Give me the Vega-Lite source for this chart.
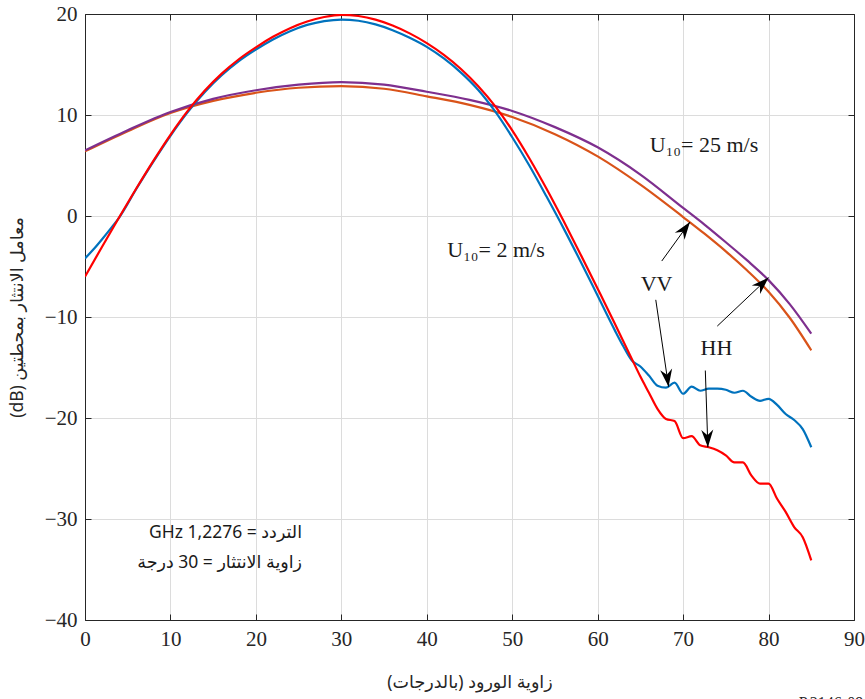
{
  "$schema": "https://vega.github.io/schema/vega-lite/v6.json",
  "width": 769,
  "height": 606,
  "autosize": {"type": "none"},
  "padding": {"left": 85, "top": 14, "right": 11, "bottom": 79},
  "background": "white",
  "config": {
    "view": {"stroke": null},
    "axis": {
      "domainColor": "#262626",
      "domainWidth": 1,
      "tickColor": "#262626",
      "gridColor": "#dcdcdc",
      "gridWidth": 1,
      "labelFont": "Liberation Serif",
      "labelFontSize": 21,
      "labelColor": "#262626",
      "labelFlush": false,
      "titleFont": "Noto Sans, DejaVu Sans",
      "titleFontSize": 17.5,
      "titleFontWeight": "normal",
      "titleColor": "#262626"
    }
  },
  "resolve": {"axis": {"x": "independent", "y": "independent"}},
  "layer": [
    {
      "data": {"values": [{"x": 0, "y": 0}]},
      "mark": {"type": "point", "opacity": 0},
      "encoding": {
        "x": {"field": "x", "type": "quantitative", "scale": {"domain": [0, 90], "nice": false, "zero": false},
          "axis": {"orient": "top", "values": [0,10,20,30,40,50,60,70,80,90], "labels": false, "grid": false, "tickSize": -6, "title": null}},
        "y": {"field": "y", "type": "quantitative", "scale": {"domain": [-40, 20], "nice": false, "zero": false},
          "axis": {"orient": "right", "values": [-40,-30,-20,-10,0,10,20], "labels": false, "grid": false, "tickSize": -6, "title": null}}
      }
    },
    {
      "data": {"values": [
        {"s": "VV25", "x": 0, "y": 6.4}, {"s": "VV25", "x": 5, "y": 8.4}, {"s": "VV25", "x": 10, "y": 10.2}, {"s": "VV25", "x": 15, "y": 11.4}, {"s": "VV25", "x": 20, "y": 12.2}, {"s": "VV25", "x": 25, "y": 12.7}, {"s": "VV25", "x": 30, "y": 12.85}, {"s": "VV25", "x": 35, "y": 12.6}, {"s": "VV25", "x": 40, "y": 11.85}, {"s": "VV25", "x": 45, "y": 11.0}, {"s": "VV25", "x": 50, "y": 9.8}, {"s": "VV25", "x": 55, "y": 8.1}, {"s": "VV25", "x": 60, "y": 5.9}, {"s": "VV25", "x": 65, "y": 3.1}, {"s": "VV25", "x": 70, "y": -0.1}, {"s": "VV25", "x": 72.5, "y": -1.75}, {"s": "VV25", "x": 75, "y": -3.5}, {"s": "VV25", "x": 77.5, "y": -5.4}, {"s": "VV25", "x": 80, "y": -7.5}, {"s": "VV25", "x": 82.5, "y": -10.1}, {"s": "VV25", "x": 85, "y": -13.3},
        {"s": "HH25", "x": 0, "y": 6.5}, {"s": "HH25", "x": 5, "y": 8.5}, {"s": "HH25", "x": 10, "y": 10.3}, {"s": "HH25", "x": 15, "y": 11.6}, {"s": "HH25", "x": 20, "y": 12.45}, {"s": "HH25", "x": 25, "y": 13.0}, {"s": "HH25", "x": 30, "y": 13.25}, {"s": "HH25", "x": 35, "y": 13.0}, {"s": "HH25", "x": 40, "y": 12.3}, {"s": "HH25", "x": 45, "y": 11.5}, {"s": "HH25", "x": 50, "y": 10.4}, {"s": "HH25", "x": 55, "y": 8.8}, {"s": "HH25", "x": 60, "y": 6.8}, {"s": "HH25", "x": 65, "y": 4.1}, {"s": "HH25", "x": 70, "y": 0.8}, {"s": "HH25", "x": 72.5, "y": -0.85}, {"s": "HH25", "x": 75, "y": -2.6}, {"s": "HH25", "x": 77.5, "y": -4.4}, {"s": "HH25", "x": 80, "y": -6.35}, {"s": "HH25", "x": 82.5, "y": -8.75}, {"s": "HH25", "x": 85, "y": -11.65},
        {"s": "VV2", "x": 0, "y": -4.2}, {"s": "VV2", "x": 1, "y": -3.3}, {"s": "VV2", "x": 2, "y": -2.3}, {"s": "VV2", "x": 3, "y": -1.25}, {"s": "VV2", "x": 4, "y": -0.15}, {"s": "VV2", "x": 6, "y": 2.67}, {"s": "VV2", "x": 8, "y": 5.38}, {"s": "VV2", "x": 10, "y": 7.94}, {"s": "VV2", "x": 12, "y": 10.26}, {"s": "VV2", "x": 14, "y": 12.25}, {"s": "VV2", "x": 16, "y": 13.93}, {"s": "VV2", "x": 18, "y": 15.33}, {"s": "VV2", "x": 20, "y": 16.48}, {"s": "VV2", "x": 22, "y": 17.48}, {"s": "VV2", "x": 24, "y": 18.3}, {"s": "VV2", "x": 26, "y": 18.92}, {"s": "VV2", "x": 28, "y": 19.3}, {"s": "VV2", "x": 30, "y": 19.45}, {"s": "VV2", "x": 32, "y": 19.33}, {"s": "VV2", "x": 34, "y": 18.97}, {"s": "VV2", "x": 36, "y": 18.4}, {"s": "VV2", "x": 38, "y": 17.65}, {"s": "VV2", "x": 40, "y": 16.75}, {"s": "VV2", "x": 42, "y": 15.6}, {"s": "VV2", "x": 44, "y": 14.2}, {"s": "VV2", "x": 46, "y": 12.5}, {"s": "VV2", "x": 48, "y": 10.35}, {"s": "VV2", "x": 50, "y": 7.8}, {"s": "VV2", "x": 52, "y": 5.0}, {"s": "VV2", "x": 54, "y": 1.95}, {"s": "VV2", "x": 56, "y": -1.2}, {"s": "VV2", "x": 58, "y": -4.5}, {"s": "VV2", "x": 60, "y": -7.9}, {"s": "VV2", "x": 62, "y": -11.3}, {"s": "VV2", "x": 63, "y": -12.9}, {"s": "VV2", "x": 64, "y": -14.3}, {"s": "VV2", "x": 65, "y": -14.9}, {"s": "VV2", "x": 66, "y": -15.8}, {"s": "VV2", "x": 67, "y": -16.8}, {"s": "VV2", "x": 68, "y": -17.0}, {"s": "VV2", "x": 69, "y": -16.5}, {"s": "VV2", "x": 70, "y": -17.6}, {"s": "VV2", "x": 71, "y": -16.9}, {"s": "VV2", "x": 72, "y": -17.3}, {"s": "VV2", "x": 73, "y": -17.1}, {"s": "VV2", "x": 74, "y": -17.1}, {"s": "VV2", "x": 75, "y": -17.2}, {"s": "VV2", "x": 76, "y": -17.5}, {"s": "VV2", "x": 77, "y": -17.3}, {"s": "VV2", "x": 78, "y": -17.9}, {"s": "VV2", "x": 79, "y": -18.3}, {"s": "VV2", "x": 80, "y": -18.1}, {"s": "VV2", "x": 81, "y": -18.7}, {"s": "VV2", "x": 82, "y": -19.6}, {"s": "VV2", "x": 83, "y": -20.2}, {"s": "VV2", "x": 84, "y": -21.1}, {"s": "VV2", "x": 85, "y": -22.9},
        {"s": "HH2", "x": 0, "y": -6.0}, {"s": "HH2", "x": 2, "y": -3.04}, {"s": "HH2", "x": 4, "y": -0.12}, {"s": "HH2", "x": 6, "y": 2.72}, {"s": "HH2", "x": 8, "y": 5.46}, {"s": "HH2", "x": 10, "y": 8.04}, {"s": "HH2", "x": 12, "y": 10.38}, {"s": "HH2", "x": 14, "y": 12.4}, {"s": "HH2", "x": 16, "y": 14.1}, {"s": "HH2", "x": 18, "y": 15.52}, {"s": "HH2", "x": 20, "y": 16.7}, {"s": "HH2", "x": 22, "y": 17.74}, {"s": "HH2", "x": 24, "y": 18.6}, {"s": "HH2", "x": 26, "y": 19.26}, {"s": "HH2", "x": 28, "y": 19.7}, {"s": "HH2", "x": 30, "y": 19.92}, {"s": "HH2", "x": 32, "y": 19.8}, {"s": "HH2", "x": 34, "y": 19.44}, {"s": "HH2", "x": 36, "y": 18.86}, {"s": "HH2", "x": 38, "y": 18.08}, {"s": "HH2", "x": 40, "y": 17.12}, {"s": "HH2", "x": 42, "y": 15.96}, {"s": "HH2", "x": 44, "y": 14.56}, {"s": "HH2", "x": 46, "y": 12.88}, {"s": "HH2", "x": 48, "y": 10.88}, {"s": "HH2", "x": 50, "y": 8.48}, {"s": "HH2", "x": 52, "y": 5.72}, {"s": "HH2", "x": 54, "y": 2.72}, {"s": "HH2", "x": 56, "y": -0.48}, {"s": "HH2", "x": 58, "y": -3.8}, {"s": "HH2", "x": 60, "y": -7.2}, {"s": "HH2", "x": 62, "y": -10.64}, {"s": "HH2", "x": 63, "y": -12.4}, {"s": "HH2", "x": 64, "y": -14.15}, {"s": "HH2", "x": 65, "y": -15.9}, {"s": "HH2", "x": 66, "y": -17.5}, {"s": "HH2", "x": 67, "y": -19.1}, {"s": "HH2", "x": 68, "y": -20.1}, {"s": "HH2", "x": 69, "y": -20.3}, {"s": "HH2", "x": 70, "y": -22.0}, {"s": "HH2", "x": 71, "y": -21.8}, {"s": "HH2", "x": 72, "y": -22.7}, {"s": "HH2", "x": 73, "y": -22.9}, {"s": "HH2", "x": 74, "y": -23.2}, {"s": "HH2", "x": 75, "y": -23.7}, {"s": "HH2", "x": 76, "y": -24.4}, {"s": "HH2", "x": 77, "y": -24.4}, {"s": "HH2", "x": 78, "y": -25.7}, {"s": "HH2", "x": 79, "y": -26.5}, {"s": "HH2", "x": 80, "y": -26.5}, {"s": "HH2", "x": 81, "y": -28.0}, {"s": "HH2", "x": 82, "y": -29.3}, {"s": "HH2", "x": 83, "y": -30.8}, {"s": "HH2", "x": 84, "y": -31.8}, {"s": "HH2", "x": 85, "y": -34.1}
      ]},
      "mark": {"type": "line", "strokeWidth": 2.2, "interpolate": "monotone", "clip": true},
      "encoding": {
        "x": {"field": "x", "type": "quantitative", "scale": {"domain": [0, 90], "nice": false, "zero": false},
          "axis": {"orient": "bottom", "values": [0,10,20,30,40,50,60,70,80,90], "grid": true, "tickSize": -6, "labelPadding": 14, "title": "زاوية الورود (بالدرجات)", "titlePadding": 24}},
        "y": {"field": "y", "type": "quantitative", "scale": {"domain": [-40, 20], "nice": false, "zero": false},
          "axis": {"orient": "left", "values": [-40,-30,-20,-10,0,10,20], "grid": true, "tickSize": -6, "labelPadding": 14, "title": "(dB) معامل الانتثار بمحطتين", "titlePadding": 18}},
        "color": {"field": "s", "type": "nominal", "legend": null,
          "scale": {"domain": ["VV25", "HH25", "VV2", "HH2"], "range": ["#D95319", "#7E2F8E", "#0072BD", "#FF0000"]}}
      }
    },
    {
      "data": {"values": [
        {"x": 67.5, "y": -4.46, "x2": 70.8, "y2": -0.6},
        {"x": 66.8, "y": -8.3, "x2": 68.3, "y2": -16.9},
        {"x": 74.0, "y": -10.9, "x2": 80.0, "y2": -6.1},
        {"x": 72.6, "y": -15.3, "x2": 72.9, "y2": -22.9}
      ]},
      "mark": {"type": "rule", "color": "black", "strokeWidth": 1},
      "encoding": {
        "x": {"field": "x", "type": "quantitative", "axis": null},
        "y": {"field": "y", "type": "quantitative", "axis": null},
        "x2": {"field": "x2"},
        "y2": {"field": "y2"}
      }
    },
    {
      "data": {"values": [{"x": 70.8, "y": -0.6}]},
      "mark": {"type": "point", "shape": "M0,0 L0.55,1.6 L0,1.1 L-0.55,1.6 Z", "size": 480, "filled": true, "color": "black", "opacity": 1, "angle": 36},
      "encoding": {"x": {"field": "x", "type": "quantitative", "axis": null}, "y": {"field": "y", "type": "quantitative", "axis": null}}
    },
    {
      "data": {"values": [{"x": 68.3, "y": -16.9}]},
      "mark": {"type": "point", "shape": "M0,0 L0.55,1.6 L0,1.1 L-0.55,1.6 Z", "size": 480, "filled": true, "color": "black", "opacity": 1, "angle": 172},
      "encoding": {"x": {"field": "x", "type": "quantitative", "axis": null}, "y": {"field": "y", "type": "quantitative", "axis": null}}
    },
    {
      "data": {"values": [{"x": 80.0, "y": -6.1}]},
      "mark": {"type": "point", "shape": "M0,0 L0.55,1.6 L0,1.1 L-0.55,1.6 Z", "size": 480, "filled": true, "color": "black", "opacity": 1, "angle": 46},
      "encoding": {"x": {"field": "x", "type": "quantitative", "axis": null}, "y": {"field": "y", "type": "quantitative", "axis": null}}
    },
    {
      "data": {"values": [{"x": 72.9, "y": -22.9}]},
      "mark": {"type": "point", "shape": "M0,0 L0.55,1.6 L0,1.1 L-0.55,1.6 Z", "size": 480, "filled": true, "color": "black", "opacity": 1, "angle": 178},
      "encoding": {"x": {"field": "x", "type": "quantitative", "axis": null}, "y": {"field": "y", "type": "quantitative", "axis": null}}
    },
    {
      "data": {"values": [
        {"x": 42.4, "y": -3.4, "t": "U₁₀= 2 m/s"},
        {"x": 66.1, "y": 7.0, "t": "U₁₀= 25 m/s"}
      ]},
      "mark": {"type": "text", "font": "Liberation Serif", "fontSize": 22, "align": "left", "baseline": "middle", "color": "#1a1a1a"},
      "encoding": {"x": {"field": "x", "type": "quantitative", "axis": null}, "y": {"field": "y", "type": "quantitative", "axis": null}, "text": {"field": "t"}}
    },
    {
      "data": {"values": [
        {"x": 66.9, "y": -6.7, "t": "VV"},
        {"x": 73.9, "y": -13.1, "t": "HH"}
      ]},
      "mark": {"type": "text", "font": "Liberation Serif", "fontSize": 22, "align": "center", "baseline": "middle", "color": "#1a1a1a"},
      "encoding": {"x": {"field": "x", "type": "quantitative", "axis": null}, "y": {"field": "y", "type": "quantitative", "axis": null}, "text": {"field": "t"}}
    },
    {
      "data": {"values": [
        {"x": 25.4, "y": -31.4, "t": "GHz 1,2276 = التردد"},
        {"x": 25.4, "y": -34.4, "t": "زاوية الانتثار = 30 درجة"}
      ]},
      "mark": {"type": "text", "font": "Noto Sans, DejaVu Sans", "fontSize": 17.5, "align": "right", "baseline": "middle", "color": "#1a1a1a"},
      "encoding": {"x": {"field": "x", "type": "quantitative", "axis": null}, "y": {"field": "y", "type": "quantitative", "axis": null}, "text": {"field": "t"}}
    },
    {
      "data": {"values": [{"x": 87.3, "y": -47.4, "t": "P.2146-09"}]},
      "mark": {"type": "text", "font": "Liberation Serif", "fontSize": 16, "align": "center", "baseline": "top", "color": "#262626", "clip": false},
      "encoding": {"x": {"field": "x", "type": "quantitative", "axis": null}, "y": {"field": "y", "type": "quantitative", "axis": null}, "text": {"field": "t"}}
    }
  ]
}
